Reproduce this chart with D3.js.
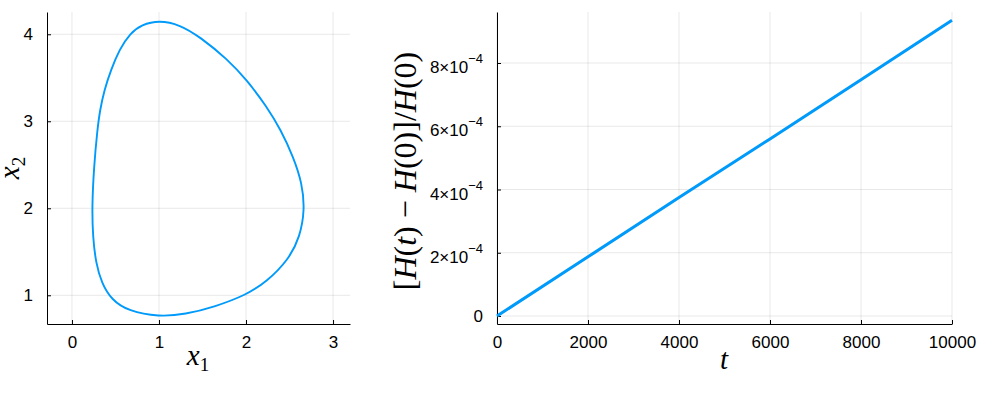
<!DOCTYPE html>
<html>
<head>
<meta charset="utf-8">
<script src="https://cdn.jsdelivr.net/npm/d3@7"></script>
<style>
  body { margin: 0; background: #fff; }
</style>
</head>
<body>
<svg id="chart" width="1000" height="400"></svg>
<script>
// phase portrait points (x1, x2), going round the orbit
var orbitX1 = [1.00, 0.80, 0.667, 0.548, 0.447, 0.372, 0.322, 0.291, 0.253, 0.230, 0.240, 0.275, 0.341, 0.456, 0.648,
               1.00, 1.30, 1.644, 2.00, 2.238, 2.49, 2.62, 2.675, 2.645, 2.544, 2.40, 2.238, 2.008, 1.79, 1.471, 1.241];
var orbitX2 = [4.16, 4.11, 4.01, 3.83, 3.59, 3.36, 3.13, 2.90, 2.48, 2.02, 1.67, 1.37, 1.14, 0.946, 0.818,
               0.752, 0.78, 0.869, 1.003, 1.156, 1.41, 1.673, 1.98, 2.287, 2.59, 2.90, 3.17, 3.475, 3.71, 3.97, 4.11];

// relative energy drift
var driftT = [0, 2000, 4000, 6000, 8000, 10000];
var driftH = [0, 1.87e-4, 3.75e-4, 5.6e-4, 7.47e-4, 9.35e-4];

var leftXTicks = [0, 1, 2, 3];
var leftYTicks = [1, 2, 3, 4];
var rightXTicks = [0, 2000, 4000, 6000, 8000, 10000];
var rightYTicks = [0, 2e-4, 4e-4, 6e-4, 8e-4];
var rightYTickLabels = ["0", "2×10^−4", "4×10^−4", "6×10^−4", "8×10^−4"];

var lineColor = "#009AFA";
var sans = "Liberation Sans";
var serif = "Liberation Serif";

var svg = d3.select("#chart");
svg.append("rect").attr("width", 1000).attr("height", 400).attr("fill", "#fff");

function drawFrame(x, y, xTicks, yTicks) {
    var g = svg.append("g");
    var x0 = x.range()[0], x1 = x.range()[1];
    var y0 = y.range()[0], y1 = y.range()[1];

    // grid
    g.selectAll(".gx").data(xTicks).enter().append("line")
        .attr("x1", function(d) { return x(d); })
        .attr("x2", function(d) { return x(d); })
        .attr("y1", y0).attr("y2", y1)
        .attr("stroke", "#000").attr("stroke-opacity", 0.09);
    g.selectAll(".gy").data(yTicks).enter().append("line")
        .attr("y1", function(d) { return y(d); })
        .attr("y2", function(d) { return y(d); })
        .attr("x1", x0).attr("x2", x1)
        .attr("stroke", "#000").attr("stroke-opacity", 0.09);

    var xa = g.append("g")
        .attr("transform", "translate(0," + y0 + ")")
        .call(d3.axisBottom(x).tickValues(xTicks).tickSize(-4).tickSizeOuter(0).tickPadding(12));
    var ya = g.append("g")
        .attr("transform", "translate(" + x0 + ",0)")
        .call(d3.axisLeft(y).tickValues(yTicks).tickSize(-4).tickSizeOuter(0).tickPadding(14));

    [xa, ya].forEach(function(a) {
        a.attr("font-size", 17).attr("font-family", sans);
        a.selectAll("text").attr("fill", "#000");
    });
    return {xa: xa, ya: ya};
}

// ---------- left: phase portrait ----------
var lx = d3.scaleLinear().domain([-0.287, 3.195]).range([47, 350]);
var ly = d3.scaleLinear().domain([0.670, 4.256]).range([324, 12]);
var left = drawFrame(lx, ly, leftXTicks, leftYTicks);
left.xa.selectAll(".tick text").text(function(d) { return d; });
left.ya.selectAll(".tick text").text(function(d) { return d; });

var orbit = orbitX1.map(function(v, i) { return [v, orbitX2[i]]; });
svg.append("path")
    .datum(orbit)
    .attr("fill", "none")
    .attr("stroke", lineColor)
    .attr("stroke-width", 1.9)
    .attr("d", d3.line()
        .x(function(d) { return lx(d[0]); })
        .y(function(d) { return ly(d[1]); })
        .curve(d3.curveBasisClosed));

// ---------- right: energy drift ----------
var rx = d3.scaleLinear().domain([0, 10000]).range([497, 952]);
var ry = d3.scaleLinear().domain([-2.53e-5, 9.613e-4]).range([324, 12]);
var right = drawFrame(rx, ry, rightXTicks, rightYTicks);
right.xa.selectAll(".tick text").text(function(d) { return d; });
right.ya.selectAll(".tick text").each(function(d, i) {
    var parts = rightYTickLabels[i].split("^");
    var t = d3.select(this).text(null);
    if (parts.length == 1) { t.text(parts[0]); return; }
    t.attr("dy", null).attr("y", 9.5);
    t.append("tspan").text(parts[0]);
    t.append("tspan").attr("dy", -10).attr("font-size", 13).text(parts[1]);
});

svg.append("path")
    .datum(driftT.map(function(v, i) { return [v, driftH[i]]; }))
    .attr("fill", "none")
    .attr("stroke", lineColor)
    .attr("stroke-width", 3)
    .attr("d", d3.line()
        .x(function(d) { return rx(d[0]); })
        .y(function(d) { return ry(d[1]); }));

// ---------- axis labels (latex-ish) ----------
function mathLabel(tx, rot, pieces, size) {
    var t = svg.append("text")
        .attr("transform", "translate(" + tx[0] + "," + tx[1] + ")" + (rot ? " rotate(" + rot + ")" : ""))
        .attr("text-anchor", "middle")
        .attr("font-family", serif)
        .attr("font-size", size);
    pieces.forEach(function(p) {
        var s = t.append("tspan").text(p.s);
        if (p.it) s.attr("font-style", "italic");
        if (p.sub) s.attr("font-size", size * 0.66).attr("dy", 6);
    });
}

mathLabel([198, 365], 0, [{s: "x", it: true}, {s: "1", sub: true}], 29);
mathLabel([19, 168], -90, [{s: "x", it: true}, {s: "2", sub: true}], 29);
mathLabel([724, 369], 0, [{s: "t", it: true}], 29);
mathLabel([416, 171], -90, [
    {s: "["}, {s: "H", it: true}, {s: "("}, {s: "t", it: true}, {s: ") − "},
    {s: "H", it: true}, {s: "(0)]/"}, {s: "H", it: true}, {s: "(0)"}
], 32);
</script>
</body>
</html>
